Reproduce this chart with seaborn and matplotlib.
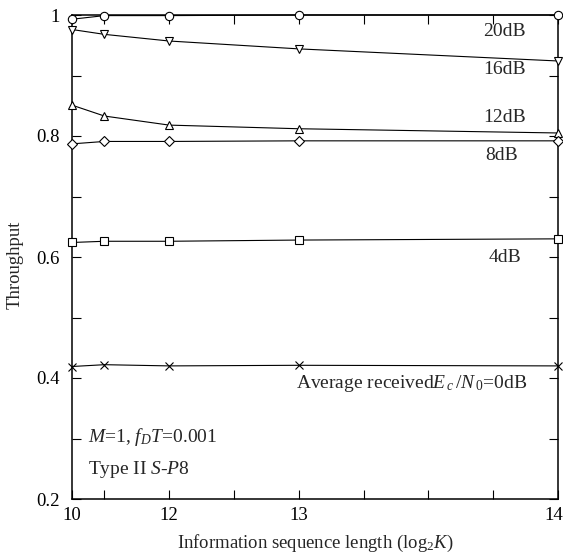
import matplotlib
matplotlib.use("Agg")
import matplotlib.pyplot as plt
import seaborn as sns
import pandas as pd
from matplotlib.ticker import FixedLocator
from matplotlib.transforms import ScaledTranslation

# ---- data ----
K_values = [1024, 2048, 4096, 8192, 16384]
snr_labels = ["20dB", "16dB", "12dB", "8dB", "4dB", "0dB"]
thr_20dB = [0.993, 0.999, 0.999, 1.000, 1.000]
thr_16dB = [0.976, 0.968, 0.957, 0.944, 0.924]
thr_12dB = [0.851, 0.833, 0.818, 0.812, 0.805]
thr_8dB = [0.787, 0.791, 0.791, 0.792, 0.792]
thr_4dB = [0.624, 0.626, 0.626, 0.628, 0.630]
thr_0dB = [0.419, 0.422, 0.420, 0.421, 0.420]
series = [thr_20dB, thr_16dB, thr_12dB, thr_8dB, thr_4dB, thr_0dB]
markers = ["o", "v", "^", "D", "s", "x"]
xtick_pos = [1024, 4096, 8192, 16384]
xtick_labels = ["10", "12", "13", "14"]
xminor_pos = [2048, 6144, 10240, 12288, 14336]
ytick_pos = [0.2, 0.4, 0.6, 0.8, 1.0]
ytick_labels = ["0.2", "0.4", "0.6", "0.8", "1"]
yminor_pos = [0.3, 0.5, 0.7, 0.9]

sns.set_theme(style="ticks")
plt.rcParams["font.family"] = ["Liberation Serif", "DejaVu Serif"]
plt.rcParams["mathtext.fontset"] = "custom"
plt.rcParams["mathtext.rm"] = "Liberation Serif"
plt.rcParams["mathtext.it"] = "Liberation Serif:italic"

rows = []
for lab, vals in zip(snr_labels, series):
    for k, v in zip(K_values, vals):
        rows.append({"K": k, "thr": v, "snr": lab})
df = pd.DataFrame(rows)

fig = plt.figure(figsize=(5.63, 5.57), dpi=100)
ax = fig.add_axes([72 / 563, 1 - 499 / 557, (558 - 72) / 563, (499 - 15) / 557])

for lab, m in zip(snr_labels, markers):
    sub = df[df["snr"] == lab]
    msize = 6 if m != "D" else 4.8
    sns.lineplot(data=sub, x="K", y="thr", ax=ax, color="black", linewidth=0.8,
                 marker=m, markersize=msize, markerfacecolor="white",
                 markeredgecolor="black", markeredgewidth=0.8, clip_on=False,
                 zorder=3)

ax.set_xlim(1024, 16384)
ax.set_ylim(0.2, 1.0)
ax.xaxis.set_major_locator(FixedLocator(xtick_pos))
ax.set_xticklabels(xtick_labels)
ax.xaxis.set_minor_locator(FixedLocator(xminor_pos))
ax.yaxis.set_major_locator(FixedLocator(ytick_pos))
ax.set_yticklabels(ytick_labels)
ax.yaxis.set_minor_locator(FixedLocator(yminor_pos))
ax.tick_params(which="both", direction="in", top=True, right=True,
               length=6.5, width=0.8, color="black", labelsize=13.5,
               labelcolor="black")
ax.tick_params(axis="y", pad=9)
ax.tick_params(axis="x", pad=6)
for s in ax.spines.values():
    s.set_visible(True)
    s.set_linewidth(1.1)
    s.set_color("black")

# nudge the last x tick label so it stays inside the figure
last = ax.get_xticklabels()[-1]
last.set_transform(last.get_transform() + ScaledTranslation(-4 / 100, 0, fig.dpi_scale_trans))

ax.set_xlabel("Information sequence length (log$_2$$K$)", fontsize=13.5, labelpad=6)
ax.set_ylabel("Throughput", fontsize=13.5)
ax.yaxis.set_label_coords(-0.100, 0.483)

def px(x, y):
    # pixel coordinates -> figure fraction
    return x / 563, 1 - y / 557

fs = 14
fig.text(*px(526, 32), "20dB", ha="right", va="center", fontsize=fs)
fig.text(*px(526, 70), "16dB", ha="right", va="center", fontsize=fs)
fig.text(*px(526, 117), "12dB", ha="right", va="center", fontsize=fs)
fig.text(*px(518, 156), "8dB", ha="right", va="center", fontsize=fs)
fig.text(*px(521, 257), "4dB", ha="right", va="center", fontsize=fs)
fig.text(*px(527, 383), r"Average received$E_{\,c}\,/N_{\,0}$=0dB", ha="right",
         va="center", fontsize=fs)
fig.text(*px(88, 437), r"$M$=1, $f_{D}T$=0.001", ha="left", va="center", fontsize=fs)
fig.text(*px(88, 470), r"Type II $S$-$P$8", ha="left", va="center", fontsize=fs)

fig.savefig("out.png", dpi=100)
